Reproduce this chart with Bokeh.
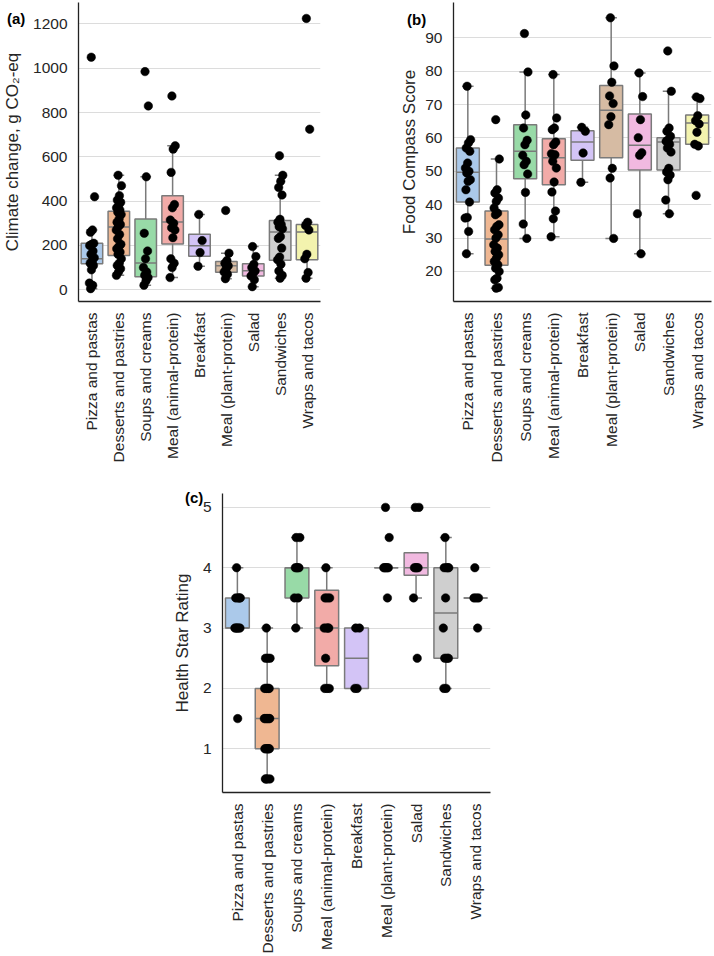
import math
import colorsys

from bokeh.plotting import figure
from bokeh.models import Range1d, FixedTicker, Spacer, ColumnDataSource, Div
from bokeh.layouts import column, row
from bokeh.embed import file_html
from bokeh.resources import INLINE

# ---------------------------------------------------------------- data
categories = [
    "Pizza and pastas", "Desserts and pastries", "Soups and creams",
    "Meal (animal-protein)", "Breakfast", "Meal (plant-protein)",
    "Salad", "Sandwiches", "Wraps and tacos",
]

# (a) climate change, g CO2-eq per item
climate_values = [
    [1050, 420, 270, 260, 210, 205, 200, 175, 160, 145, 130, 120, 110, 90, 30, 20, 5],
    [517, 470, 425, 405, 395, 380, 370, 360, 350, 340, 320, 305, 295, 285, 270, 250,
     230, 205, 195, 185, 170, 160, 140, 120, 110, 95, 80, 65],
    [985, 830, 510, 255, 175, 140, 100, 80, 65, 55, 40, 20],
    [875, 650, 635, 530, 385, 370, 315, 300, 280, 270, 235, 140, 120, 100, 55],
    [340, 222, 168, 106],
    [358, 165, 132, 120, 108, 95, 80, 70, 50],
    [195, 150, 115, 100, 85, 75, 62, 45, 14],
    [605, 517, 490, 462, 428, 318, 305, 295, 285, 275, 240, 232, 188, 148, 135, 115, 85, 65, 52],
    [1225, 725, 305, 290, 270, 160, 140, 78, 52],
]
climate_q1 = [118, 155, 59, 207, 151, 79, 62, 133, 136]
climate_med = [140, 283, 121, 306, 199, 108, 86, 261, 261]
climate_q3 = [210, 354, 320, 424, 251, 128, 118, 313, 295]
climate_lo = [5, 65, 20, 55, 106, 50, 14, 52, 52]
climate_hi = [270, 517, 510, 650, 340, 165, 195, 517, 305]

# (b) Food Compass Score
compass_values = [
    [75.5, 59.5, 58.5, 57, 56, 52.5, 51, 50, 49.5, 47.5, 47, 44.5, 40.8, 36.2, 36, 32, 25.3],
    [65.5, 53.7, 44.5, 43.5, 42, 41, 39, 37.5, 37, 34, 33.5, 32.5, 31, 30, 28, 27, 26,
     25, 24, 23, 22, 21, 20, 18, 17.5, 15.2, 15],
    [91.3, 79.8, 66.9, 63, 59.3, 58, 54.8, 53, 52, 49.2, 43.7, 34.2, 29.9],
    [79, 66, 63, 62.5, 58.8, 58, 55.3, 55, 53, 51, 46.8, 43.8, 38.1, 35.8, 30.4],
    [63.2, 62, 55.5, 46.7],
    [96, 81.6, 76.7, 72.6, 70.3, 66.4, 64, 50.9, 48, 29.9],
    [79.5, 72.4, 65.5, 60.1, 55.6, 54.8, 37.3, 25.3],
    [86.1, 74, 63, 62, 60.5, 59.5, 59, 58.1, 57, 55.8, 50.9, 49.8, 48.9, 47.5, 41.4, 37.3],
    [72.3, 71.8, 66.7, 65.2, 64.2, 61.7, 58.1, 57.6, 42.8],
]
compass_q1 = [40.8, 21.9, 47.8, 46.0, 53.3, 54.1, 50.4, 50.4, 58.1]
compass_med = [49.7, 29.7, 56.0, 54.1, 58.8, 68.3, 57.8, 58.8, 64.5]
compass_q3 = [57.0, 38.1, 64.0, 59.8, 62.2, 75.7, 67.2, 60.1, 66.9]
compass_lo = [25.3, 15.0, 29.9, 30.4, 46.7, 29.9, 25.3, 37.3, 58.1]
compass_hi = [75.5, 53.7, 79.8, 79.0, 63.2, 96.0, 79.5, 74.0, 72.3]

# (c) Health Star Rating
star_values = [
    [4, 3.5, 3.5, 3.5, 3.5, 3, 3, 3, 3, 3, 1.5],
    [3, 2.5, 2.5, 2.5, 2, 2, 2, 2, 2, 1.5, 1.5, 1.5, 1.5, 1.5, 1.5,
     1, 1, 1, 1, 1, 1, 0.5, 0.5, 0.5, 0.5],
    [4.5, 4.5, 4, 4, 4, 4, 3.5, 3.5, 3],
    [4, 3.5, 3.5, 3.5, 3, 3, 3, 3, 2.5, 2, 2, 2],
    [3, 3, 2, 2],
    [5, 4.5, 4, 4, 4, 4, 4, 3.5],
    [5, 5, 4, 4, 4, 4, 3.5, 2.5],
    [4.5, 4, 4, 4, 4, 3.5, 3, 2.5, 2.5, 2.5, 2, 2],
    [4, 3.5, 3.5, 3.5, 3],
]
star_q1 = [3.0, 1.0, 3.5, 2.375, 2.0, 4.0, 3.875, 2.5, 3.5]
star_med = [3.0, 1.5, 4.0, 3.0, 2.5, 4.0, 4.0, 3.25, 3.5]
star_q3 = [3.5, 2.0, 4.0, 3.625, 3.0, 4.0, 4.25, 4.0, 3.5]
star_lo = [3.0, 0.5, 3.0, 2.0, 2.0, 4.0, 3.5, 2.0, 3.5]
star_hi = [4.0, 3.0, 4.5, 4.0, 3.0, 4.0, 4.25, 4.5, 3.5]

climate_ticks = [0, 200, 400, 600, 800, 1000, 1200]
compass_ticks = [20, 30, 40, 50, 60, 70, 80, 90]
star_ticks = [1, 2, 3, 4, 5]

# ---------------------------------------------------------------- style
FONT = "Liberation Sans"
TEXT = "#262626"
PASTEL = ["#a1c9f4", "#ffb482", "#8de5a1", "#ff9f9b", "#d0bbff",
          "#debb9b", "#fab0e4", "#cfcfcf", "#fffea3"]


def desaturate(hex_color, prop=0.75):
    r, g, b = (int(hex_color[i:i + 2], 16) / 255 for i in (1, 3, 5))
    h, l, s = colorsys.rgb_to_hls(r, g, b)
    r, g, b = colorsys.hls_to_rgb(h, l, s * prop)
    return "#%02x%02x%02x" % (round(r * 255), round(g * 255), round(b * 255))


BOX_COLORS = [desaturate(c) for c in PASTEL]
BOX_LINE = "#7a7a7a"


def strip_offset(i):
    # deterministic spread of points within +/-0.1 of a category
    return 0.1 * (2.0 * ((i * 0.6180339887 + 0.37) % 1.0) - 1.0)


def panel(values, q1, med, q3, lo, hi, y_range, ticks, ylabel, width, height,
          borders, label_standoff):
    left, right, top, bottom = borders
    ncat = len(categories)
    p = figure(width=width, height=height, output_backend="svg",
               toolbar_location=None,
               x_range=Range1d(-0.5, ncat - 0.5),
               y_range=Range1d(*y_range),
               min_border_left=left, min_border_right=right,
               min_border_top=top, min_border_bottom=bottom)
    p.outline_line_color = None
    p.background_fill_color = "white"
    p.border_fill_color = "white"

    p.xgrid.grid_line_color = None
    p.ygrid.grid_line_color = "#dcdcdc"
    p.ygrid.grid_line_width = 1.2

    p.yaxis.ticker = FixedTicker(ticks=ticks)
    p.xaxis.ticker = FixedTicker(ticks=list(range(ncat)))
    p.xaxis.major_label_overrides = {i: c for i, c in enumerate(categories)}
    p.xaxis.major_label_orientation = math.pi / 2

    for ax in (p.xaxis[0], p.yaxis[0]):
        ax.axis_line_color = "#222222"
        ax.axis_line_width = 1.3
        ax.major_tick_line_color = None
        ax.minor_tick_line_color = None
        ax.major_tick_out = 0
        ax.major_tick_in = 0
        ax.major_label_text_font = FONT
        ax.major_label_text_font_size = "15.5px"
        ax.major_label_text_color = TEXT
        ax.major_label_standoff = 11
    p.yaxis.axis_label = ylabel
    p.yaxis.axis_label_text_font = FONT
    p.yaxis.axis_label_text_font_size = "17px"
    p.yaxis.axis_label_text_font_style = "normal"
    p.yaxis.axis_label_text_color = TEXT
    p.yaxis.axis_label_standoff = label_standoff

    xs = list(range(ncat))
    box = ColumnDataSource(dict(x=xs, q1=q1, med=med, q3=q3, lo=lo, hi=hi,
                                color=BOX_COLORS))
    # whiskers and caps
    p.segment(x0="x", x1="x", y0="q3", y1="hi", source=box,
              line_color=BOX_LINE, line_width=1.5)
    p.segment(x0="x", x1="x", y0="lo", y1="q1", source=box,
              line_color=BOX_LINE, line_width=1.5)
    cap_x0 = [x - 0.2 for x in xs]
    cap_x1 = [x + 0.2 for x in xs]
    p.segment(x0=cap_x0, x1=cap_x1, y0=hi, y1=hi,
              line_color=BOX_LINE, line_width=1.5)
    p.segment(x0=cap_x0, x1=cap_x1, y0=lo, y1=lo,
              line_color=BOX_LINE, line_width=1.5)
    # boxes and medians
    p.vbar(x="x", width=0.8, bottom="q1", top="q3", source=box,
           fill_color="color", line_color=BOX_LINE, line_width=1.5)
    p.segment(x0=[x - 0.4 for x in xs], x1=[x + 0.4 for x in xs],
              y0=med, y1=med, line_color=BOX_LINE, line_width=1.5)

    # individual items
    px, py = [], []
    for k, vals in enumerate(values):
        for i, v in enumerate(vals):
            px.append(k + strip_offset(i))
            py.append(v)
    p.scatter(px, py, size=8.5, fill_color="black", line_color="black",
              line_width=0.5)
    return p


def tag(text, left, top):
    # bold panel letter pinned to the page's top-left corner
    return Div(text=text, width=30, height=20,
               styles={"position": "absolute", "left": f"{left}px",
                       "top": f"{top}px", "font-family": FONT,
                       "font-size": "15px", "font-weight": "bold",
                       "color": "black", "line-height": "18px",
                       "z-index": "10"})


# panel geometry: (left, right, top, bottom) borders around each frame
pa = panel(climate_values, climate_q1, climate_med, climate_q3, climate_lo,
           climate_hi, (-53, 1297), climate_ticks, "Climate change, g CO\u2082-eq",
           360, 465, (77, 40, 2, 160), 8)
pb = panel(compass_values, compass_q1, compass_med, compass_q3, compass_lo,
           compass_hi, (11.0, 100.6), compass_ticks, "Food Compass Score",
           354, 465, (93, 3, 2, 162), 3)
pc = panel(star_values, star_q1, star_med, star_q3, star_lo, star_hi,
           (0.275, 5.23), star_ticks, "Health Star Rating",
           390, 491, (102, 20, 28, 161), 8)

layout = column(row(pa, pb), row(Spacer(width=120, height=491), pc),
                tag("(a)", 2, 5), tag("(b)", 402, 6), tag("(c)", 180, 484))

with open("out.html", "w") as f:
    f.write(file_html(layout, INLINE))
